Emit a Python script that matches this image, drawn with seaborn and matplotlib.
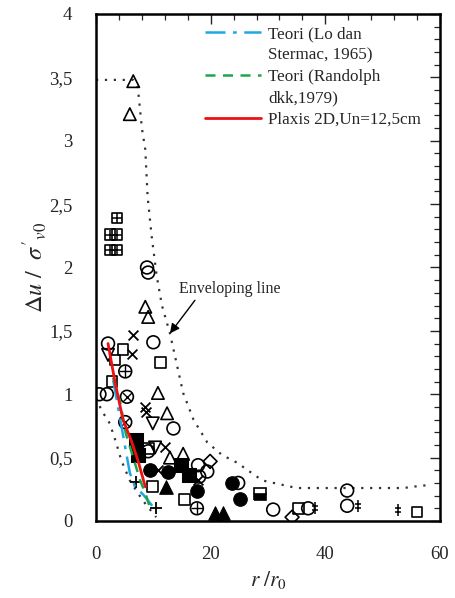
import numpy as np
import matplotlib
matplotlib.use("Agg")
import matplotlib.pyplot as plt
import seaborn as sns
from matplotlib.ticker import MultipleLocator, FixedLocator, FixedFormatter, NullFormatter
from matplotlib.path import Path
from matplotlib.lines import Line2D

# ---- data ----
# theory / model curves
lo_x = [3.0, 4.2, 5.1, 5.9, 6.8, 8.2, 9.8]
lo_y = [1.11, 0.81, 0.58, 0.38, 0.27, 0.21, 0.12]
rand_x = [3.0, 4.2, 5.2, 6.5, 7.7, 8.6, 9.6]
rand_y = [1.13, 0.94, 0.69, 0.50, 0.32, 0.22, 0.08]
plaxis_x = [2.1, 3.3, 4.7, 6.1, 7.3, 8.6]
plaxis_y = [1.40, 1.10, 0.80, 0.64, 0.48, 0.27]

# enveloping lines
env_hi_x = [0, 6.5, 7.3, 8.0, 8.6, 9.0, 9.7, 10.6, 11.5, 12.9, 15.2, 17.0, 19.4,
            22.0, 24.6, 29.0, 32.0, 35.0, 45.0, 53.6, 57.0, 58.6]
env_hi_y = [3.48, 3.48, 3.42, 3.10, 2.93, 2.56, 2.25, 1.93, 1.70, 1.48, 1.01, 0.80,
            0.62, 0.52, 0.46, 0.32, 0.29, 0.26, 0.26, 0.26, 0.28, 0.28]
env_lo_x = [0, 1.0, 2.4, 3.5, 4.4, 5.9, 7.3, 8.7, 10.5]
env_lo_y = [0.97, 0.87, 0.77, 0.62, 0.48, 0.32, 0.22, 0.13, 0.03]

# measured points, by marker
circ_x = [8.9, 9.1, 10.0, 2.1, 0.6, 1.9, 13.5, 17.8, 19.4, 18.0, 9.1, 24.8, 30.9, 37.0, 43.8, 43.8]
circ_y = [2.00, 1.96, 1.41, 1.40, 1.00, 1.00, 0.73, 0.44, 0.39, 0.35, 0.55, 0.30, 0.09, 0.10, 0.24, 0.12]
sq_x = [4.7, 3.3, 11.2, 2.8, 9.1, 9.8, 15.5, 35.3, 56.0]
sq_y = [1.35, 1.27, 1.25, 1.10, 0.57, 0.27, 0.17, 0.10, 0.07]
sqplus_x = [3.7, 2.4, 3.7, 2.4, 3.7]
sqplus_y = [2.39, 2.26, 2.26, 2.14, 2.14]
tri_x = [6.5, 5.9, 8.6, 9.1, 10.8, 12.4, 12.9, 15.2]
tri_y = [3.47, 3.21, 1.69, 1.61, 1.01, 0.85, 0.50, 0.53]
tridn_x = [2.1, 9.9, 10.3]
tridn_y = [1.31, 0.77, 0.58]
cross_x = [6.5, 6.3, 8.6, 8.8, 12.0, 10.8, 17.8]
cross_y = [1.47, 1.32, 0.90, 0.86, 0.58, 0.40, 0.32]
circx_x = [5.4, 5.1]
circx_y = [0.98, 0.78]
circplus_x = [5.1, 17.6]
circplus_y = [1.18, 0.10]
fcirc_x = [9.4, 12.6, 17.6, 23.7, 25.1]
fcirc_y = [0.40, 0.39, 0.24, 0.30, 0.17]
fsq_x = [7.0, 7.3, 14.8, 16.2]
fsq_y = [0.64, 0.52, 0.44, 0.36]
ftri_x = [12.2, 20.8, 22.2]
ftri_y = [0.27, 0.06, 0.06]
diam_x = [19.9, 34.2]
diam_y = [0.47, 0.03]
plus_x = [10.5, 7.0]
plus_y = [0.10, 0.31]
dd_x = [38.2, 45.7, 52.7]
dd_y = [0.10, 0.12, 0.09]
half_x = [28.6]
half_y = [0.21]

ytick_vals = [0, 0.5, 1, 1.5, 2, 2.5, 3, 3.5, 4]
ytick_labels = ["0", "0,5", "1", "1,5", "2", "2,5", "3", "3,5", "4"]
xtick_vals = [0, 20, 40, 60]
xtick_labels = ["0", "20", "40", "60"]

# ---- style ----
sns.set_style("white")
plt.rcParams['font.family'] = ['Liberation Serif', 'DejaVu Serif']
plt.rcParams['mathtext.fontset'] = 'stix'

fig = plt.figure(figsize=(4.56, 5.98), dpi=100)
ax = fig.add_axes([0.2105, 0.1288, 0.7545, 0.8478])

# double dagger marker: vertical stroke with two bars
dd_marker = Path([(0, -1), (0, 1), (-0.6, 0.35), (0.6, 0.35), (-0.6, -0.35), (0.6, -0.35)],
                 [Path.MOVETO, Path.LINETO, Path.MOVETO, Path.LINETO, Path.MOVETO, Path.LINETO])

# envelopes
sns.lineplot(x=env_hi_x, y=env_hi_y, ax=ax, sort=False, estimator=None,
             color='#333333', linestyle=(0, (1, 3)), linewidth=1.6)
sns.lineplot(x=env_lo_x, y=env_lo_y, ax=ax, sort=False, estimator=None,
             color='#333333', linestyle=(0, (1, 3)), linewidth=1.6)

mk = dict(ax=ax, legend=False, zorder=3)
open_kw = dict(facecolor='none', edgecolor='black', linewidth=1.2)
sns.scatterplot(x=circ_x, y=circ_y, marker='o', s=85, **open_kw, **mk)
sns.scatterplot(x=sq_x, y=sq_y, marker='s', s=60, **open_kw, **mk)
sns.scatterplot(x=sqplus_x, y=sqplus_y, marker='s', s=55, **open_kw, **mk)
sns.scatterplot(x=sqplus_x, y=sqplus_y, marker='+', s=55, color='black', linewidth=1.1, **mk)
sns.scatterplot(x=tri_x, y=tri_y, marker='^', s=80, **open_kw, **mk)
sns.scatterplot(x=tridn_x, y=tridn_y, marker='v', s=80, **open_kw, **mk)
sns.scatterplot(x=cross_x, y=cross_y, marker='x', s=50, color='black', linewidth=1.3, **mk)
sns.scatterplot(x=circx_x, y=circx_y, marker='o', s=85, **open_kw, **mk)
sns.scatterplot(x=circx_x, y=circx_y, marker='x', s=40, color='black', linewidth=1.0, **mk)
sns.scatterplot(x=circplus_x, y=circplus_y, marker='o', s=85, **open_kw, **mk)
sns.scatterplot(x=circplus_x, y=circplus_y, marker='+', s=75, color='black', linewidth=1.0, **mk)
sns.scatterplot(x=fcirc_x, y=fcirc_y, marker='o', s=95, color='black', edgecolor='black', **mk)
sns.scatterplot(x=fsq_x, y=fsq_y, marker='s', s=90, color='black', edgecolor='black', **mk)
sns.scatterplot(x=ftri_x, y=ftri_y, marker='^', s=95, color='black', edgecolor='black', **mk)
sns.scatterplot(x=diam_x, y=diam_y, marker='D', s=50, **open_kw, **mk)
sns.scatterplot(x=plus_x, y=plus_y, marker='+', s=80, color='black', linewidth=1.3, **mk)
sns.scatterplot(x=dd_x, y=dd_y, marker=dd_marker, s=70, color='black', edgecolor='black',
                linewidth=1.1, **mk)
ax.plot(half_x, half_y, marker='s', markersize=8.5, fillstyle='bottom', color='black',
        markerfacecoloralt='white', markeredgewidth=1.2, linestyle='none', zorder=3)

# theory curves
sns.lineplot(x=lo_x, y=lo_y, ax=ax, sort=False, estimator=None, color='#1ea7e1',
             linestyle=(0, (8, 3, 1.5, 3)), linewidth=1.8, zorder=4)
sns.lineplot(x=rand_x, y=rand_y, ax=ax, sort=False, estimator=None, color='#1aa64a',
             linestyle=(0, (4, 3)), linewidth=1.8, zorder=4)
sns.lineplot(x=plaxis_x, y=plaxis_y, ax=ax, sort=False, estimator=None, color='#ee1111',
             linewidth=2.0, zorder=5)

ax.annotate('Enveloping line', xy=(12.9, 1.48), xytext=(14.5, 1.83),
            fontsize=11.5, va='center', ha='left',
            arrowprops=dict(arrowstyle='-|>', color='black', lw=1.0,
                            mutation_scale=14, shrinkA=0, shrinkB=0,
                            relpos=(0.18, 0.0)))

ax.set_xlim(0, 60)
ax.set_ylim(0, 4)
ax.yaxis.set_major_locator(FixedLocator(ytick_vals))
ax.yaxis.set_major_formatter(FixedFormatter(ytick_labels))
ax.xaxis.set_major_locator(FixedLocator(xtick_vals))
ax.xaxis.set_major_formatter(FixedFormatter(xtick_labels))
ax.yaxis.set_minor_locator(MultipleLocator(0.1))
ax.xaxis.set_minor_locator(MultipleLocator(4))
ax.tick_params(which='major', direction='inout', length=10, width=1.0,
               labelsize=13.5, color='black')
ax.tick_params(axis='y', which='major', pad=12)
ax.tick_params(axis='x', which='major', pad=13)
ax.tick_params(which='minor', direction='in', length=4, width=0.9, color='black')

# inward ticks only on top and right
top = ax.secondary_xaxis('top')
top.xaxis.set_major_locator(FixedLocator(xtick_vals))
top.xaxis.set_minor_locator(MultipleLocator(4))
top.xaxis.set_major_formatter(NullFormatter())
top.tick_params(which='major', direction='in', length=7, width=1.0)
top.tick_params(which='minor', direction='in', length=4, width=0.9)
right = ax.secondary_yaxis('right')
right.yaxis.set_major_locator(FixedLocator(ytick_vals))
right.yaxis.set_minor_locator(MultipleLocator(0.1))
right.yaxis.set_major_formatter(NullFormatter())
right.tick_params(which='major', direction='in', length=7, width=1.0)
right.tick_params(which='minor', direction='in', length=4, width=0.9)
for s in (top, right):
    for sp in s.spines.values():
        sp.set_visible(False)

for sp in ax.spines.values():
    sp.set_linewidth(1.8)
    sp.set_color('black')

ax.set_xlabel(r'$r\ /r_0$', fontsize=15.5, labelpad=4)
ax.set_ylabel(r"$\mathit{\Delta u}\ /\ \ \sigma'_{v0}$", fontsize=17.5, labelpad=0)

# legend: one row per text line, handle on the first line of each entry
blank = Line2D([], [], color='none')
h_lo = Line2D([], [], color='#1ea7e1', linestyle=(0, (8, 3, 1.5, 3)), linewidth=1.8)
h_rand = Line2D([], [], color='#1aa64a', linestyle=(0, (4, 3)), linewidth=1.8)
h_plx = Line2D([], [], color='#ee1111', linewidth=2.0)
leg = ax.legend(handles=[h_lo, blank, h_rand, blank, h_plx],
                labels=['Teori (Lo dan', 'Stermac, 1965)', 'Teori (Randolph',
                        'dkk,1979)', 'Plaxis 2D,Un=12,5cm'],
                loc='upper left', bbox_to_anchor=(193 / 456, 1 - 14 / 598),
                bbox_transform=fig.transFigure, frameon=False, fontsize=12.3,
                handlelength=3.3, handletextpad=0.4, labelspacing=0.32,
                borderpad=0.2)

fig.savefig('out.png', dpi=100)
